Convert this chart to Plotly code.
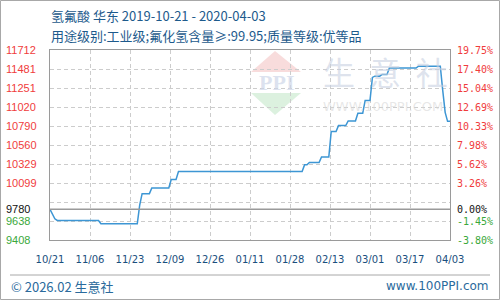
import plotly.graph_objects as go
import pandas as pd

# ---- data ----
dates = ["2019-10-21", "2019-10-22", "2019-10-23", "2019-10-24", "2019-11-10", "2019-11-11",
         "2019-11-26", "2019-11-27", "2019-11-28", "2019-12-01", "2019-12-02", "2019-12-09",
         "2019-12-10", "2019-12-12", "2019-12-13", "2020-02-02", "2020-02-03", "2020-02-04",
         "2020-02-05", "2020-02-09", "2020-02-10", "2020-02-13", "2020-02-14", "2020-02-16",
         "2020-02-17", "2020-02-20", "2020-02-21", "2020-02-24", "2020-02-25", "2020-02-27",
         "2020-02-28", "2020-03-01", "2020-03-02", "2020-03-03", "2020-03-05", "2020-03-06",
         "2020-03-08", "2020-03-09", "2020-03-20", "2020-03-21", "2020-03-30", "2020-03-31",
         "2020-04-01", "2020-04-02", "2020-04-03"]
prices = [9780, 9730, 9665, 9645, 9645, 9605,
          9605, 9830, 9970, 9970, 10040, 10040,
          10142, 10142, 10239, 10239, 10319, 10319,
          10347, 10347, 10415, 10415, 10723, 10723,
          10795, 10795, 10851, 10851, 10946, 10946,
          11101, 11101, 11380, 11395, 11395, 11416,
          11416, 11494, 11494, 11516, 11516, 11222,
          10956, 10847, 10847]

x_tick_labels = ["10/21", "11/06", "11/23", "12/09", "12/26", "01/11",
                 "01/28", "02/13", "03/01", "03/17", "04/03"]
left_labels = ["11712", "11481", "11251", "11020", "10790", "10560",
               "10329", "10099", "9780", "9638", "9408"]
right_labels = ["19.75%", "17.40%", "15.04%", "12.69%", "10.33%", "7.98%",
                "5.62%", "3.26%", "0.00%", "-1.45%", "-3.80%"]
base_price = 9780
y_min, y_max = 9408, 11712
title1 = "氢氟酸 华东 2019-10-21 - 2020-04-03"
title2 = "用途级别:工业级;氟化氢含量≥:99.95;质量等级:优等品"
footer_left = "© 2026.02 生意社"
footer_right = "www.100PPI.com"

# ---- layout helpers ----
W, H = 500, 300
L, R, T, B = 50, 50, 50, 60
PW, PH = W - L - R, H - T - B


def px(x):
    return (x - L) / PW


def py(y):
    return (H - B - y) / PH


start = pd.Timestamp(dates[0])
end = pd.Timestamp(dates[-1])
span = (end - start) / (len(x_tick_labels) - 1)
tickvals_x = [start + span * k for k in range(len(x_tick_labels))]
step = (y_max - y_min) / 10
grid_y = [y_min + step * k for k in range(11)]

blue_text = "#1d5a8c"
grid_col = "#cccccc"

fig = go.Figure()
fig.add_trace(go.Scatter(x=dates, y=prices, mode="lines",
                         line=dict(color="#3d96d4", width=1.5), hoverinfo="skip"))

fig.update_layout(
    width=W, height=H,
    margin=dict(l=L, r=R, t=T, b=B),
    paper_bgcolor="white", plot_bgcolor="white",
    showlegend=False,
    xaxis=dict(type="date", range=[start, end], tickvals=tickvals_x, ticktext=x_tick_labels,
               showgrid=True, gridcolor=grid_col, griddash="4px,3px", gridwidth=1,
               showline=True, linecolor="#9a9a9a", linewidth=1, mirror=True,
               ticks="", ticklabelstandoff=10,
               tickfont=dict(family="DejaVu Sans", size=10, color="#1a4f7e"),
               zeroline=False),
    yaxis=dict(range=[y_min, y_max], tickvals=grid_y, showticklabels=False,
               showgrid=True, gridcolor=grid_col, griddash="4px,3px", gridwidth=1,
               showline=True, linecolor="#9a9a9a", linewidth=1, mirror=True,
               ticks="", zeroline=False),
)

# baseline
fig.add_shape(type="line", xref="paper", yref="y", x0=0, x1=1, y0=base_price, y1=base_price,
              line=dict(color="#9a9a9a", width=1.5), layer="above")

annotations = []
# left / right labels
for lab, rlab in zip(left_labels, right_labels):
    v = float(lab)
    if v > base_price:
        col = "#f03c3c"
    elif v == base_price:
        col = "#111111"
    else:
        col = "#3aa83a"
    annotations.append(dict(x=px(4), y=v, xref="paper", yref="y", text=lab, showarrow=False,
                            xanchor="left", yanchor="middle",
                            font=dict(family="Liberation Sans", size=11, color=col)))
    annotations.append(dict(x=px(455), y=v, xref="paper", yref="y", text=rlab, showarrow=False,
                            xanchor="left", yanchor="middle",
                            font=dict(family="DejaVu Sans Mono", size=10, color=col)))

# titles
annotations.append(dict(x=px(49), y=py(15), xref="paper", yref="paper", text=title1, showarrow=False,
                        xanchor="left", yanchor="middle",
                        font=dict(family="Noto Sans CJK SC", size=13, color=blue_text)))
annotations.append(dict(x=px(49), y=py(35), xref="paper", yref="paper", text=title2, showarrow=False,
                        xanchor="left", yanchor="middle",
                        font=dict(family="Noto Sans CJK SC", size=13, color=blue_text)))
# footer
annotations.append(dict(x=px(9), y=py(286), xref="paper", yref="paper", text=footer_left, showarrow=False,
                        xanchor="left", yanchor="middle",
                        font=dict(family="Noto Sans CJK SC", size=13, color="#2a6a9c")))
annotations.append(dict(x=px(491), y=py(286), xref="paper", yref="paper", text=footer_right, showarrow=False,
                        xanchor="right", yanchor="middle",
                        font=dict(family="DejaVu Sans", size=12, color="#2a6a9c")))
# watermark
annotations.append(dict(x=px(385), y=py(71), xref="paper", yref="paper",
                        text="生  意  社", showarrow=False, xanchor="center", yanchor="middle",
                        font=dict(family="Noto Sans CJK SC", size=32, color="rgba(200,208,225,0.6)")))
annotations.append(dict(x=px(383), y=py(106), xref="paper", yref="paper",
                        text="WWW.100PPI.COM", showarrow=False, xanchor="center", yanchor="middle",
                        font=dict(family="DejaVu Sans", size=13, color="rgba(215,215,215,0.6)")))
annotations.append(dict(x=px(276), y=py(82), xref="paper", yref="paper",
                        text="<b>PPI</b>", showarrow=False, xanchor="center", yanchor="middle",
                        font=dict(family="Liberation Serif", size=22, color="rgba(205,214,232,0.7)")))
fig.update_layout(annotations=annotations)

# logo triangles
fig.add_shape(type="path", xref="paper", yref="paper", layer="below",
              path=f"M {px(275)} {py(51)} L {px(301)} {py(72)} L {px(251)} {py(72)} Z",
              fillcolor="rgba(245,205,205,0.7)", line=dict(width=0))
fig.add_shape(type="path", xref="paper", yref="paper", layer="below",
              path=f"M {px(251)} {py(93)} L {px(301)} {py(93)} L {px(275)} {py(115)} Z",
              fillcolor="rgba(205,235,210,0.7)", line=dict(width=0))

# footer separator and outer border
fig.add_shape(type="line", xref="paper", yref="paper", x0=px(10), x1=px(490), y0=py(275), y1=py(275),
              line=dict(color="#a8a8a8", width=1))
fig.add_shape(type="rect", xref="paper", yref="paper", x0=px(0.5), x1=px(499.5), y0=py(0.5), y1=py(299.5),
              line=dict(color="#a8a8a8", width=1))

fig.write_html("out.html")
